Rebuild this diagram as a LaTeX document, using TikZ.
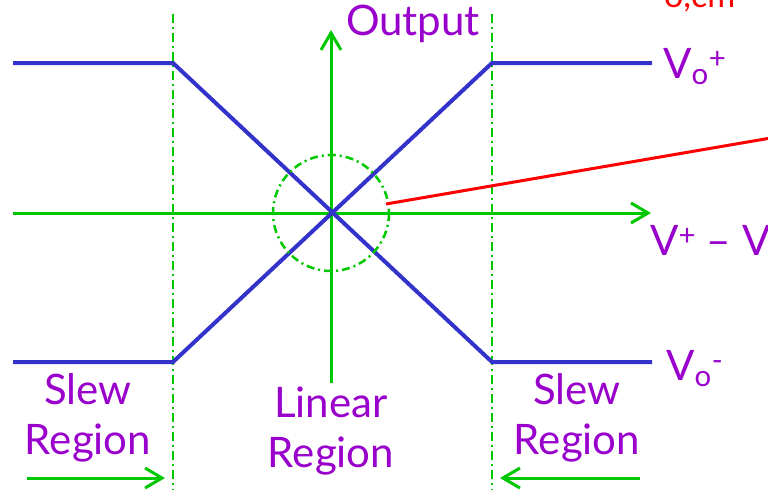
\documentclass[tikz,border=0pt]{standalone}
\usepackage{fontspec}
\setmainfont{Lato}
\usetikzlibrary{positioning,arrows.meta,calc}

\definecolor{trace}{RGB}{51,51,204}
\definecolor{axisgreen}{RGB}{0,200,0}
\definecolor{labpurple}{RGB}{153,0,204}

\tikzset{
  curve/.style={draw=trace,line width=4pt,line join=miter},
  axisline/.style={draw=axisgreen,line width=3pt,-{Straight Barb[length=17pt,width=20pt,line width=3pt]}},
  bound/.style={draw=axisgreen,line width=2.5pt,dash pattern=on 9pt off 4pt on 2pt off 4pt},
  lab/.style={text=labpurple,font=\fontsize{42}{50}\selectfont,align=center,inner sep=0pt},
}

\begin{document}
\begin{tikzpicture}[x=1pt,y=-1pt]
  \useasboundingbox (0,0) rectangle (768,490);
  \clip (0,0) rectangle (768,490);
  % corners of the transfer curves
  \coordinate (O) at (331,213);
  \coordinate (hiL) at (13,63);
  \coordinate (hiA) at (173,63);
  \coordinate (hiB) at (492,63);
  \coordinate (hiR) at (652,63);
  \coordinate (loL) at (13,362);
  \coordinate (loA) at (173,362);
  \coordinate (loB) at (492,362);
  \coordinate (loR) at (652,362);
  % region boundaries
  \draw[bound] (173,14) -- (173,490);
  \draw[bound] (492,14) -- (492,490);
  % axes
  \coordinate (xstart) at (13,213);
  \coordinate (xend) at (651,213);
  \coordinate (ystart) at (331,383);
  \coordinate (yend) at (331,30);
  \draw[axisline] (xstart) -- (xend);
  \draw[axisline] (ystart) -- (yend);
  % curves
  \draw[curve] (hiL) -- (hiA) -- (loB) -- (loR);
  \draw[curve] (loL) -- (loA) -- (hiB) -- (hiR);
  % linear region marker
  \draw[bound,dash pattern=on 8pt off 4pt on 2pt off 4pt] (O) circle (58);
  \coordinate (tap) at (386,204);
  \coordinate (far) at (800,133);
  \draw[red,line width=3pt] (tap) -- (far);
  % labels
  \node[lab,anchor=center] (out) at (413,24) {Output};
  \node[lab,anchor=base west] (vop) at (663,78) {V\textsubscript{o}\textsuperscript{+}};
  \node[lab,anchor=base west] (vom) at (666,380) {V\textsubscript{o}\textsuperscript{-}};
  \node[lab,anchor=base west] (vin) at (650,255) {V\textsuperscript{+} -- V\textsuperscript{-}};
  \node[text=red,font=\fontsize{34}{40}\selectfont,inner sep=0pt,anchor=base west] (vcm) at (664,7) {o,cm};
  \node[lab] (slewL) at (88,418) {Slew\\Region};
  \node[lab] (lin) at (331,431) {Linear\\Region};
  \node[lab] (slewR) at (577,418) {Slew\\Region};
  % region arrows
  \coordinate (aL) at (27,478);
  \coordinate (aLend) at (165,478);
  \coordinate (aR) at (640,478);
  \coordinate (aRend) at (500,478);
  \draw[axisline] (aL) -- (aLend);
  \draw[axisline] (aR) -- (aRend);
\end{tikzpicture}
\end{document}
